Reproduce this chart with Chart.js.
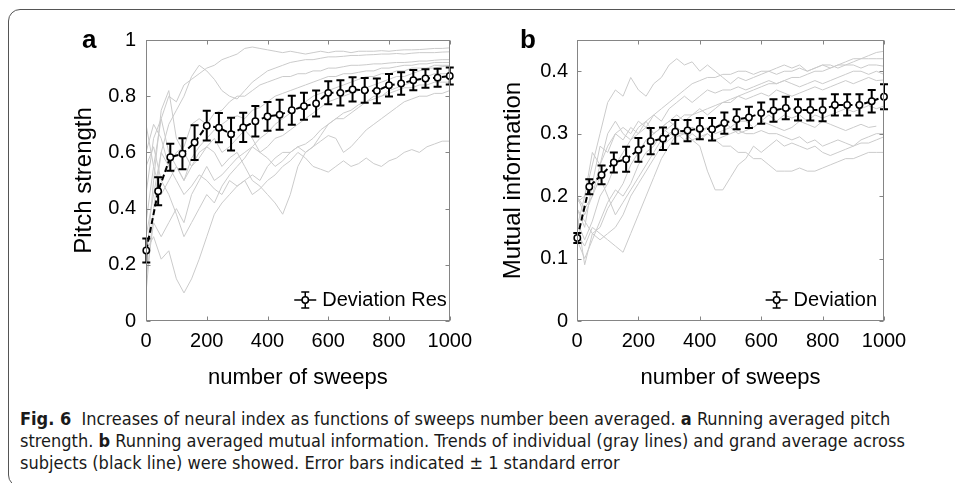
<!DOCTYPE html>
<html>
<head>
<meta charset="utf-8">
<script src="https://cdn.jsdelivr.net/npm/chart.js@4.4.1/dist/chart.umd.min.js"></script>
<style>
  body { margin: 0; background: #fff; width: 955px; height: 483px; overflow: hidden; position: relative;
         font-family: "Liberation Sans", Arial, sans-serif; }
  #frame { position: absolute; left: 8px; top: 9px; width: 970px; height: 476px;
           border: 1px solid #555; border-radius: 12px; }
  .panel { position: absolute; top: 0; }
  #wrapA { left: 0; }
  #wrapB { left: 480px; }
  .tag { position: absolute; top: 26px; font-weight: bold; font-size: 26px; line-height: 1; }
  #caption { position: absolute; left: 20px; top: 408px; font-family: "DejaVu Sans Condensed", "Liberation Sans Narrow", sans-serif;
             font-size: 18px; line-height: 22px; color: #1a1a1a; white-space: nowrap; }
</style>
</head>
<body>
<div id="frame"></div>
<div class="panel" id="wrapA"><canvas id="chartA" width="480" height="400"></canvas></div>
<div class="panel" id="wrapB"><canvas id="chartB" width="475" height="400"></canvas></div>
<div class="tag" style="left:82px">a</div>
<div class="tag" style="left:520px">b</div>
<div id="caption">
  <div><b>Fig. 6</b>&nbsp; Increases of neural index as functions of sweeps number been averaged. <b>a</b> Running averaged pitch</div>
  <div>strength. <b>b</b> Running averaged mutual information. Trends of individual (gray lines) and grand average across</div>
  <div>subjects (black line) were showed. Error bars indicated ± 1 standard error</div>
</div>
<script>
Chart.defaults.font.family = '"Liberation Sans", Arial, sans-serif';
Chart.defaults.color = '#000';

// sweep numbers
var sweepsMean = [1, 40, 80, 120, 160, 200, 240, 280, 320, 360, 400, 440, 480, 520, 560, 600, 640, 680, 720, 760, 800, 840, 880, 920, 960, 1000];
var sweepsFine = [0, 25, 50, 75, 100, 125, 150, 175, 200, 225, 250, 275, 300, 325, 350, 375, 400, 425, 450, 475, 500,
                  525, 550, 575, 600, 625, 650, 675, 700, 725, 750, 775, 800, 825, 850, 875, 900, 925, 950, 975, 1000];
var xTicks = [0, 200, 400, 600, 800, 1000];
var yTicksA = [0, 0.2, 0.4, 0.6, 0.8, 1];
var yTicksB = [0, 0.1, 0.2, 0.3, 0.4];

// (a) pitch strength, grand average and standard error
var pitchMean = [0.251, 0.462, 0.583, 0.595, 0.635, 0.695, 0.688, 0.665, 0.689, 0.711, 0.728, 0.734, 0.75,
                 0.764, 0.774, 0.812, 0.812, 0.824, 0.821, 0.819, 0.839, 0.845, 0.857, 0.863, 0.866, 0.872];
var pitchSem = [0.043, 0.05, 0.048, 0.055, 0.062, 0.053, 0.052, 0.058, 0.052, 0.054, 0.051, 0.053, 0.052,
                0.048, 0.046, 0.041, 0.045, 0.043, 0.044, 0.044, 0.04, 0.04, 0.036, 0.033, 0.032, 0.03];

// (a) individual subjects
var pitchS1 = [0.35,0.55,0.72,0.80,0.78,0.84,0.86,0.88,0.90,0.91,0.93,0.94,0.95,0.97,0.975,0.97,0.965,0.96,0.955,0.96,0.955,0.95,0.955,0.96,0.955,0.96,0.96,0.955,0.96,0.96,0.96,0.962,0.96,0.963,0.965,0.965,0.966,0.968,0.97,0.97,0.972];
var pitchS2 = [0.30,0.45,0.60,0.70,0.75,0.80,0.87,0.91,0.89,0.86,0.82,0.80,0.79,0.82,0.85,0.87,0.89,0.90,0.91,0.92,0.925,0.93,0.93,0.935,0.94,0.94,0.942,0.945,0.945,0.947,0.948,0.95,0.95,0.952,0.95,0.953,0.955,0.955,0.955,0.957,0.958];
var pitchS3 = [0.60,0.70,0.65,0.55,0.60,0.62,0.70,0.72,0.70,0.74,0.75,0.78,0.80,0.80,0.82,0.84,0.85,0.86,0.87,0.87,0.88,0.88,0.89,0.89,0.90,0.90,0.905,0.91,0.91,0.912,0.915,0.915,0.918,0.92,0.92,0.922,0.925,0.925,0.928,0.93,0.93];
var pitchS4 = [0.70,0.55,0.45,0.50,0.55,0.50,0.58,0.62,0.65,0.68,0.70,0.72,0.73,0.72,0.75,0.76,0.78,0.80,0.81,0.82,0.83,0.84,0.85,0.86,0.87,0.87,0.88,0.88,0.885,0.89,0.89,0.90,0.90,0.905,0.91,0.91,0.915,0.915,0.92,0.92,0.92];
var pitchS5 = [0.45,0.65,0.72,0.60,0.55,0.50,0.55,0.60,0.62,0.60,0.55,0.58,0.60,0.55,0.50,0.48,0.45,0.42,0.38,0.45,0.55,0.60,0.62,0.66,0.70,0.72,0.72,0.74,0.76,0.78,0.80,0.80,0.82,0.83,0.84,0.85,0.86,0.87,0.88,0.88,0.88];
var pitchS6 = [0.25,0.30,0.22,0.25,0.15,0.10,0.15,0.22,0.30,0.38,0.42,0.45,0.48,0.50,0.52,0.50,0.55,0.58,0.60,0.60,0.62,0.63,0.65,0.68,0.70,0.72,0.74,0.75,0.77,0.78,0.79,0.80,0.81,0.82,0.83,0.83,0.84,0.84,0.85,0.85,0.85];
var pitchS7 = [0.10,0.40,0.60,0.55,0.50,0.45,0.48,0.52,0.50,0.47,0.45,0.50,0.48,0.50,0.45,0.47,0.50,0.52,0.55,0.57,0.60,0.58,0.55,0.54,0.53,0.55,0.57,0.55,0.56,0.58,0.56,0.55,0.57,0.58,0.60,0.61,0.60,0.62,0.63,0.64,0.64];
var pitchS8 = [0.20,0.50,0.75,0.82,0.65,0.60,0.55,0.58,0.62,0.65,0.60,0.62,0.65,0.68,0.65,0.60,0.62,0.65,0.66,0.68,0.70,0.72,0.74,0.76,0.78,0.79,0.80,0.81,0.82,0.83,0.84,0.85,0.86,0.87,0.87,0.88,0.89,0.90,0.90,0.905,0.91];
var pitchS9 = [0.15,0.35,0.30,0.35,0.40,0.35,0.45,0.50,0.55,0.50,0.52,0.55,0.58,0.60,0.62,0.60,0.58,0.55,0.57,0.60,0.62,0.60,0.62,0.64,0.66,0.65,0.60,0.62,0.65,0.68,0.70,0.72,0.74,0.76,0.78,0.79,0.80,0.80,0.81,0.81,0.82];
var pitchS10 = [0.55,0.62,0.50,0.45,0.38,0.30,0.35,0.40,0.45,0.42,0.48,0.52,0.55,0.58,0.62,0.65,0.67,0.70,0.72,0.74,0.76,0.78,0.80,0.81,0.82,0.83,0.84,0.85,0.86,0.87,0.87,0.88,0.88,0.89,0.89,0.90,0.90,0.90,0.91,0.91,0.91];

// (b) mutual information, grand average and standard error
var miMean = [0.133, 0.215, 0.234, 0.254, 0.259, 0.274, 0.288, 0.292, 0.303, 0.305, 0.308, 0.307, 0.317,
              0.323, 0.326, 0.333, 0.337, 0.341, 0.338, 0.338, 0.338, 0.346, 0.346, 0.346, 0.352, 0.359];
var miSem = [0.008, 0.012, 0.015, 0.016, 0.02, 0.019, 0.021, 0.018, 0.019, 0.017, 0.017, 0.018, 0.017,
             0.016, 0.017, 0.017, 0.018, 0.018, 0.017, 0.017, 0.018, 0.017, 0.017, 0.017, 0.018, 0.02];

// (b) individual subjects
var miS1 = [0.15,0.20,0.25,0.30,0.35,0.37,0.36,0.39,0.37,0.36,0.38,0.39,0.41,0.42,0.41,0.415,0.40,0.41,0.40,0.39,0.38,0.39,0.385,0.39,0.395,0.40,0.405,0.41,0.405,0.41,0.40,0.405,0.41,0.405,0.41,0.415,0.42,0.42,0.425,0.43,0.432];
var miS2 = [0.18,0.15,0.22,0.28,0.27,0.30,0.31,0.30,0.32,0.31,0.33,0.34,0.35,0.36,0.37,0.38,0.385,0.39,0.39,0.395,0.395,0.40,0.40,0.395,0.40,0.40,0.395,0.40,0.40,0.405,0.40,0.405,0.41,0.41,0.405,0.41,0.41,0.405,0.41,0.41,0.408];
var miS3 = [0.20,0.18,0.20,0.25,0.28,0.30,0.29,0.31,0.30,0.32,0.33,0.32,0.34,0.35,0.36,0.35,0.36,0.37,0.365,0.37,0.37,0.375,0.37,0.375,0.38,0.385,0.38,0.385,0.38,0.375,0.38,0.385,0.38,0.385,0.39,0.395,0.40,0.40,0.395,0.40,0.395];
var miS4 = [0.16,0.13,0.16,0.20,0.22,0.25,0.27,0.29,0.30,0.31,0.30,0.31,0.32,0.33,0.32,0.33,0.34,0.33,0.34,0.35,0.35,0.36,0.355,0.36,0.365,0.36,0.37,0.365,0.36,0.365,0.37,0.375,0.37,0.375,0.38,0.385,0.38,0.385,0.39,0.385,0.386];
var miS5 = [0.19,0.20,0.27,0.25,0.30,0.32,0.30,0.29,0.31,0.32,0.30,0.31,0.30,0.31,0.30,0.31,0.30,0.31,0.31,0.32,0.31,0.32,0.32,0.31,0.32,0.33,0.32,0.33,0.325,0.33,0.32,0.33,0.325,0.33,0.335,0.34,0.335,0.34,0.345,0.34,0.344];
var miS6 = [0.17,0.09,0.14,0.15,0.18,0.20,0.22,0.25,0.27,0.29,0.30,0.31,0.32,0.31,0.30,0.31,0.305,0.31,0.30,0.305,0.31,0.30,0.305,0.31,0.32,0.315,0.31,0.305,0.31,0.32,0.315,0.31,0.32,0.315,0.31,0.305,0.31,0.315,0.31,0.312,null];
var miS7 = [0.20,0.17,0.20,0.23,0.20,0.17,0.19,0.21,0.23,0.25,0.27,0.29,0.30,0.295,0.30,0.29,0.295,0.30,0.29,0.295,0.30,0.305,0.30,0.30,0.305,0.30,0.30,0.295,0.29,0.295,0.285,0.29,0.28,0.285,0.29,0.285,0.28,0.29,0.295,0.30,0.30];
var miS8 = [0.18,0.16,0.14,0.13,0.14,0.15,0.17,0.20,0.22,0.24,0.26,0.28,0.29,0.30,0.30,0.29,0.28,0.24,0.21,0.21,0.23,0.25,0.26,0.28,0.27,0.28,0.29,0.28,0.285,0.28,0.275,0.28,0.27,0.265,0.27,0.275,0.28,0.285,0.285,0.29,0.295];
var miS9 = [0.14,0.12,0.15,0.14,0.13,0.12,0.11,0.14,0.17,0.20,0.23,0.26,0.28,0.30,0.29,0.30,0.29,0.30,0.29,0.28,0.28,0.27,0.27,0.26,0.26,0.25,0.24,0.24,0.24,0.245,0.24,0.24,0.245,0.25,0.255,0.26,0.26,0.265,0.27,0.27,0.27];
var miS10 = [0.13,0.10,0.13,0.16,0.19,0.21,0.20,0.22,0.25,0.27,0.28,0.30,0.31,0.32,0.33,0.33,0.335,0.34,0.345,0.35,0.355,0.36,0.365,0.37,0.375,0.38,0.38,0.385,0.39,0.39,0.395,0.40,0.40,0.405,0.41,0.41,0.415,0.42,0.42,0.42,0.42];

//========================================
// error bars go right under the black mean line (dataset 0)
var errorBarPlugin = {
    id: 'errbars',
    beforeDatasetDraw: function (chart, args, opts) {
        if (args.index !== 0) return;
        var ctx = chart.ctx, xs = chart.scales.x, ys = chart.scales.y;
        ctx.save();
        ctx.strokeStyle = '#000';
        ctx.lineWidth = 2;
        for (var i = 0; i < opts.mean.length; i++) {
            var px = xs.getPixelForValue(sweepsMean[i]);
            var hi = ys.getPixelForValue(opts.mean[i] + opts.sem[i]);
            var lo = ys.getPixelForValue(opts.mean[i] - opts.sem[i]);
            ctx.beginPath();
            ctx.moveTo(px, hi); ctx.lineTo(px, lo);
            ctx.moveTo(px - 4, hi); ctx.lineTo(px + 4, hi);
            ctx.moveTo(px - 4, lo); ctx.lineTo(px + 4, lo);
            ctx.stroke();
        }
        ctx.restore();
    }
};

// matlab style box with inward ticks on all four sides
var boxPlugin = {
    id: 'axesBox',
    afterDatasetsDraw: function (chart) {
        var ctx = chart.ctx, a = chart.chartArea, xs = chart.scales.x, ys = chart.scales.y;
        var l = Math.round(a.left) + 0.5, r = Math.round(a.right) - 0.5;
        var t = Math.round(a.top) + 0.5, b = Math.round(a.bottom) - 0.5;
        ctx.save();
        ctx.strokeStyle = '#858585';
        ctx.lineWidth = 1;
        ctx.strokeRect(l, t, r - l, b - t);
        ctx.beginPath();
        xs.ticks.forEach(function (tk) {
            var px = Math.round(xs.getPixelForValue(tk.value)) + 0.5;
            ctx.moveTo(px, b); ctx.lineTo(px, b - 4);
            ctx.moveTo(px, t); ctx.lineTo(px, t + 4);
        });
        ys.ticks.forEach(function (tk) {
            var py = Math.round(ys.getPixelForValue(tk.value)) + 0.5;
            ctx.moveTo(l, py); ctx.lineTo(l + 4, py);
            ctx.moveTo(r, py); ctx.lineTo(r - 4, py);
        });
        ctx.stroke();
        ctx.restore();
    }
};

var legendPlugin = {
    id: 'errLegend',
    afterDraw: function (chart, args, opts) {
        var ctx = chart.ctx, a = chart.chartArea;
        ctx.save();
        ctx.font = '20px "Liberation Sans", Arial, sans-serif';
        var tw = ctx.measureText(opts.text).width;
        var tx = a.right - opts.gapRight - tw, cy = a.bottom - 21;
        ctx.fillStyle = '#000';
        ctx.textBaseline = 'middle';
        ctx.fillText(opts.text, tx, cy);
        var cx = tx - 17;
        ctx.strokeStyle = '#000';
        ctx.lineWidth = 1.5;
        ctx.beginPath();
        ctx.moveTo(cx - 11, cy); ctx.lineTo(cx - 3, cy);
        ctx.moveTo(cx + 3, cy); ctx.lineTo(cx + 11, cy);
        ctx.moveTo(cx, cy - 8); ctx.lineTo(cx, cy + 8);
        ctx.moveTo(cx - 4, cy - 8); ctx.lineTo(cx + 4, cy - 8);
        ctx.moveTo(cx - 4, cy + 8); ctx.lineTo(cx + 4, cy + 8);
        ctx.stroke();
        ctx.beginPath();
        ctx.arc(cx, cy, 3.2, 0, Math.PI * 2);
        ctx.fillStyle = '#fff';
        ctx.fill();
        ctx.stroke();
        ctx.restore();
    }
};

function MakePanel(canvasId, p) {
    var datasets = [{
        data: sweepsMean.map(function (s, i) { return { x: s, y: p.mean[i] }; }),
        borderColor: '#000',
        borderWidth: 2,
        borderDash: [6, 3],
        pointRadius: 3.2,
        pointBackgroundColor: '#fff',
        pointBorderColor: '#000',
        pointBorderWidth: 1.5,
        clip: 8
    }];
    p.subjects.forEach(function (vals) {
        datasets.push({
            data: sweepsFine.map(function (s, i) { return { x: s, y: vals[i] }; }),
            borderColor: '#cbcbcb',
            borderWidth: 1,
            pointRadius: 0
        });
    });

    return new Chart(document.getElementById(canvasId), {
        type: 'line',
        data: { datasets: datasets },
        plugins: [errorBarPlugin, boxPlugin, legendPlugin],
        options: {
            responsive: false,
            animation: false,
            events: [],
            layout: { padding: { top: 40, right: p.padRight, bottom: 0, left: 0 } },
            plugins: {
                legend: { display: false },
                tooltip: { enabled: false },
                errbars: { mean: p.mean, sem: p.sem },
                errLegend: { text: p.legendText, gapRight: p.legendGap }
            },
            scales: {
                x: {
                    type: 'linear',
                    min: 0,
                    max: 1000,
                    grid: { display: false, drawTicks: false },
                    border: { display: false },
                    afterBuildTicks: function (s) { s.ticks = xTicks.map(function (v) { return { value: v }; }); },
                    afterFit: function (s) { s.height = 79; },
                    ticks: { padding: 8, font: { size: 20 }, maxRotation: 0, autoSkip: false,
                             callback: function (v) { return String(v); } },
                    title: { display: true, text: 'number of sweeps', font: { size: 22 }, padding: { top: 0, bottom: 9 } }
                },
                y: {
                    type: 'linear',
                    min: 0,
                    max: p.yMax,
                    grid: { display: false, drawTicks: false },
                    border: { display: false },
                    afterBuildTicks: function (s) { s.ticks = p.yTicks.map(function (v) { return { value: v }; }); },
                    afterFit: function (s) { s.width = p.yWidth; },
                    ticks: { padding: p.yTickPad, font: { size: 20 }, autoSkip: false,
                             callback: function (v) { return String(v); } },
                    title: { display: true, text: p.yTitle, font: { size: 24 }, padding: { top: p.yTitlePad, bottom: 0 } }
                }
            }
        }
    });
}

var PitchChart = MakePanel('chartA', {
    mean: pitchMean, sem: pitchSem,
    subjects: [pitchS1, pitchS2, pitchS3, pitchS4, pitchS5, pitchS6, pitchS7, pitchS8, pitchS9, pitchS10],
    yMax: 1, yTicks: yTicksA, yTitle: 'Pitch strength',
    yWidth: 146, yTickPad: 10, yTitlePad: 70, padRight: 26,
    legendText: 'Deviation Res', legendGap: 3
});

var MiChart = MakePanel('chartB', {
    mean: miMean, sem: miSem,
    subjects: [miS1, miS2, miS3, miS4, miS5, miS6, miS7, miS8, miS9, miS10],
    yMax: 0.45, yTicks: yTicksB, yTitle: 'Mutual information',
    yWidth: 97, yTickPad: 9, yTitlePad: 19, padRight: 71,
    legendText: 'Deviation', legendGap: 7
});
</script>
</body>
</html>
